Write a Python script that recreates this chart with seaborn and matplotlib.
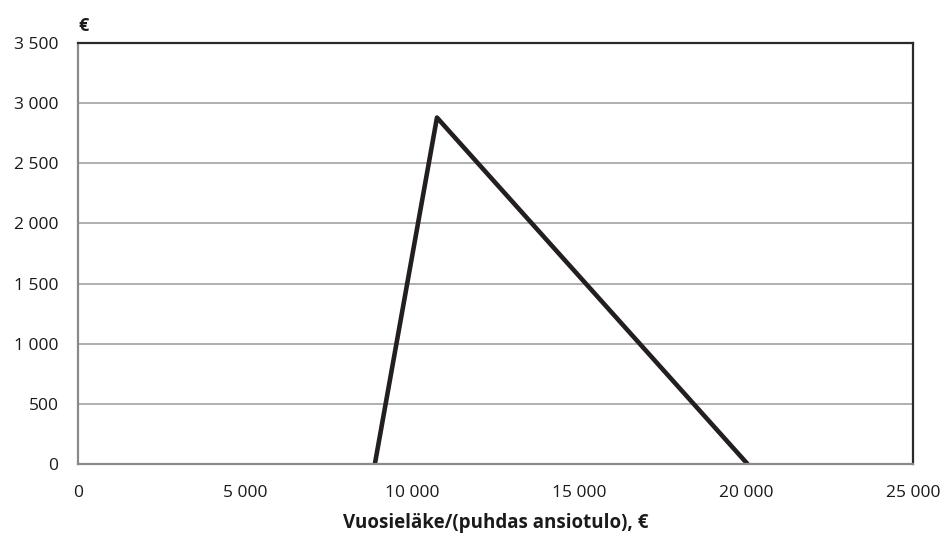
import numpy as np
import pandas as pd
import seaborn as sns
import matplotlib.pyplot as plt
from matplotlib.ticker import FuncFormatter

# values
income = [8890, 10750, 20050]
benefit = [0, 2880, 0]

x_ticks = [0, 5000, 10000, 15000, 20000, 25000]
y_ticks = [0, 500, 1000, 1500, 2000, 2500, 3000, 3500]

sns.set_theme(style="white")
plt.rcParams["font.family"] = ["Open Sans", "DejaVu Sans"]

df = pd.DataFrame({"income": income, "benefit": benefit})


def fmt_space(v, pos=None):
    return f"{int(v):,}".replace(",", " ")


fig = plt.figure(figsize=(9.45, 5.36), dpi=100)
ax = fig.add_axes([0.0825, 0.1343, 0.8835, 0.7855])

ax.set_xlim(0, 25000)
ax.set_ylim(0, 3500)
ax.set_xticks(x_ticks)
ax.set_yticks(y_ticks)
ax.xaxis.set_major_formatter(FuncFormatter(fmt_space))
ax.yaxis.set_major_formatter(FuncFormatter(fmt_space))

ax.grid(axis="y", color="#9a9a9a", linewidth=1.1)
ax.set_axisbelow(True)

sns.lineplot(data=df, x="income", y="benefit", ax=ax, color="#231f20",
             linewidth=3.3, sort=False)

for side in ["left", "bottom"]:
    ax.spines[side].set_color("#8a8a8a")
    ax.spines[side].set_linewidth(1.6)
for side in ["top", "right"]:
    ax.spines[side].set_color("#2a2a2a")
    ax.spines[side].set_linewidth(1.6)

ax.tick_params(axis="both", direction="out", length=5, width=1.2,
               color="#8a8a8a", labelsize=12.5, labelcolor="#1a1a1a")
ax.tick_params(axis="x", pad=10)
ax.tick_params(axis="y", pad=9)

ax.set_xlabel("Vuosieläke/(puhdas ansiotulo), €", fontsize=13.5, fontweight="bold",
              color="#1a1a1a", labelpad=9)
ax.set_ylabel("")
ax.text(0.0, 1.018, "€", transform=ax.transAxes, fontsize=13, fontweight="bold",
        color="#1a1a1a", ha="left", va="bottom")

fig.savefig("out.png", dpi=100)
